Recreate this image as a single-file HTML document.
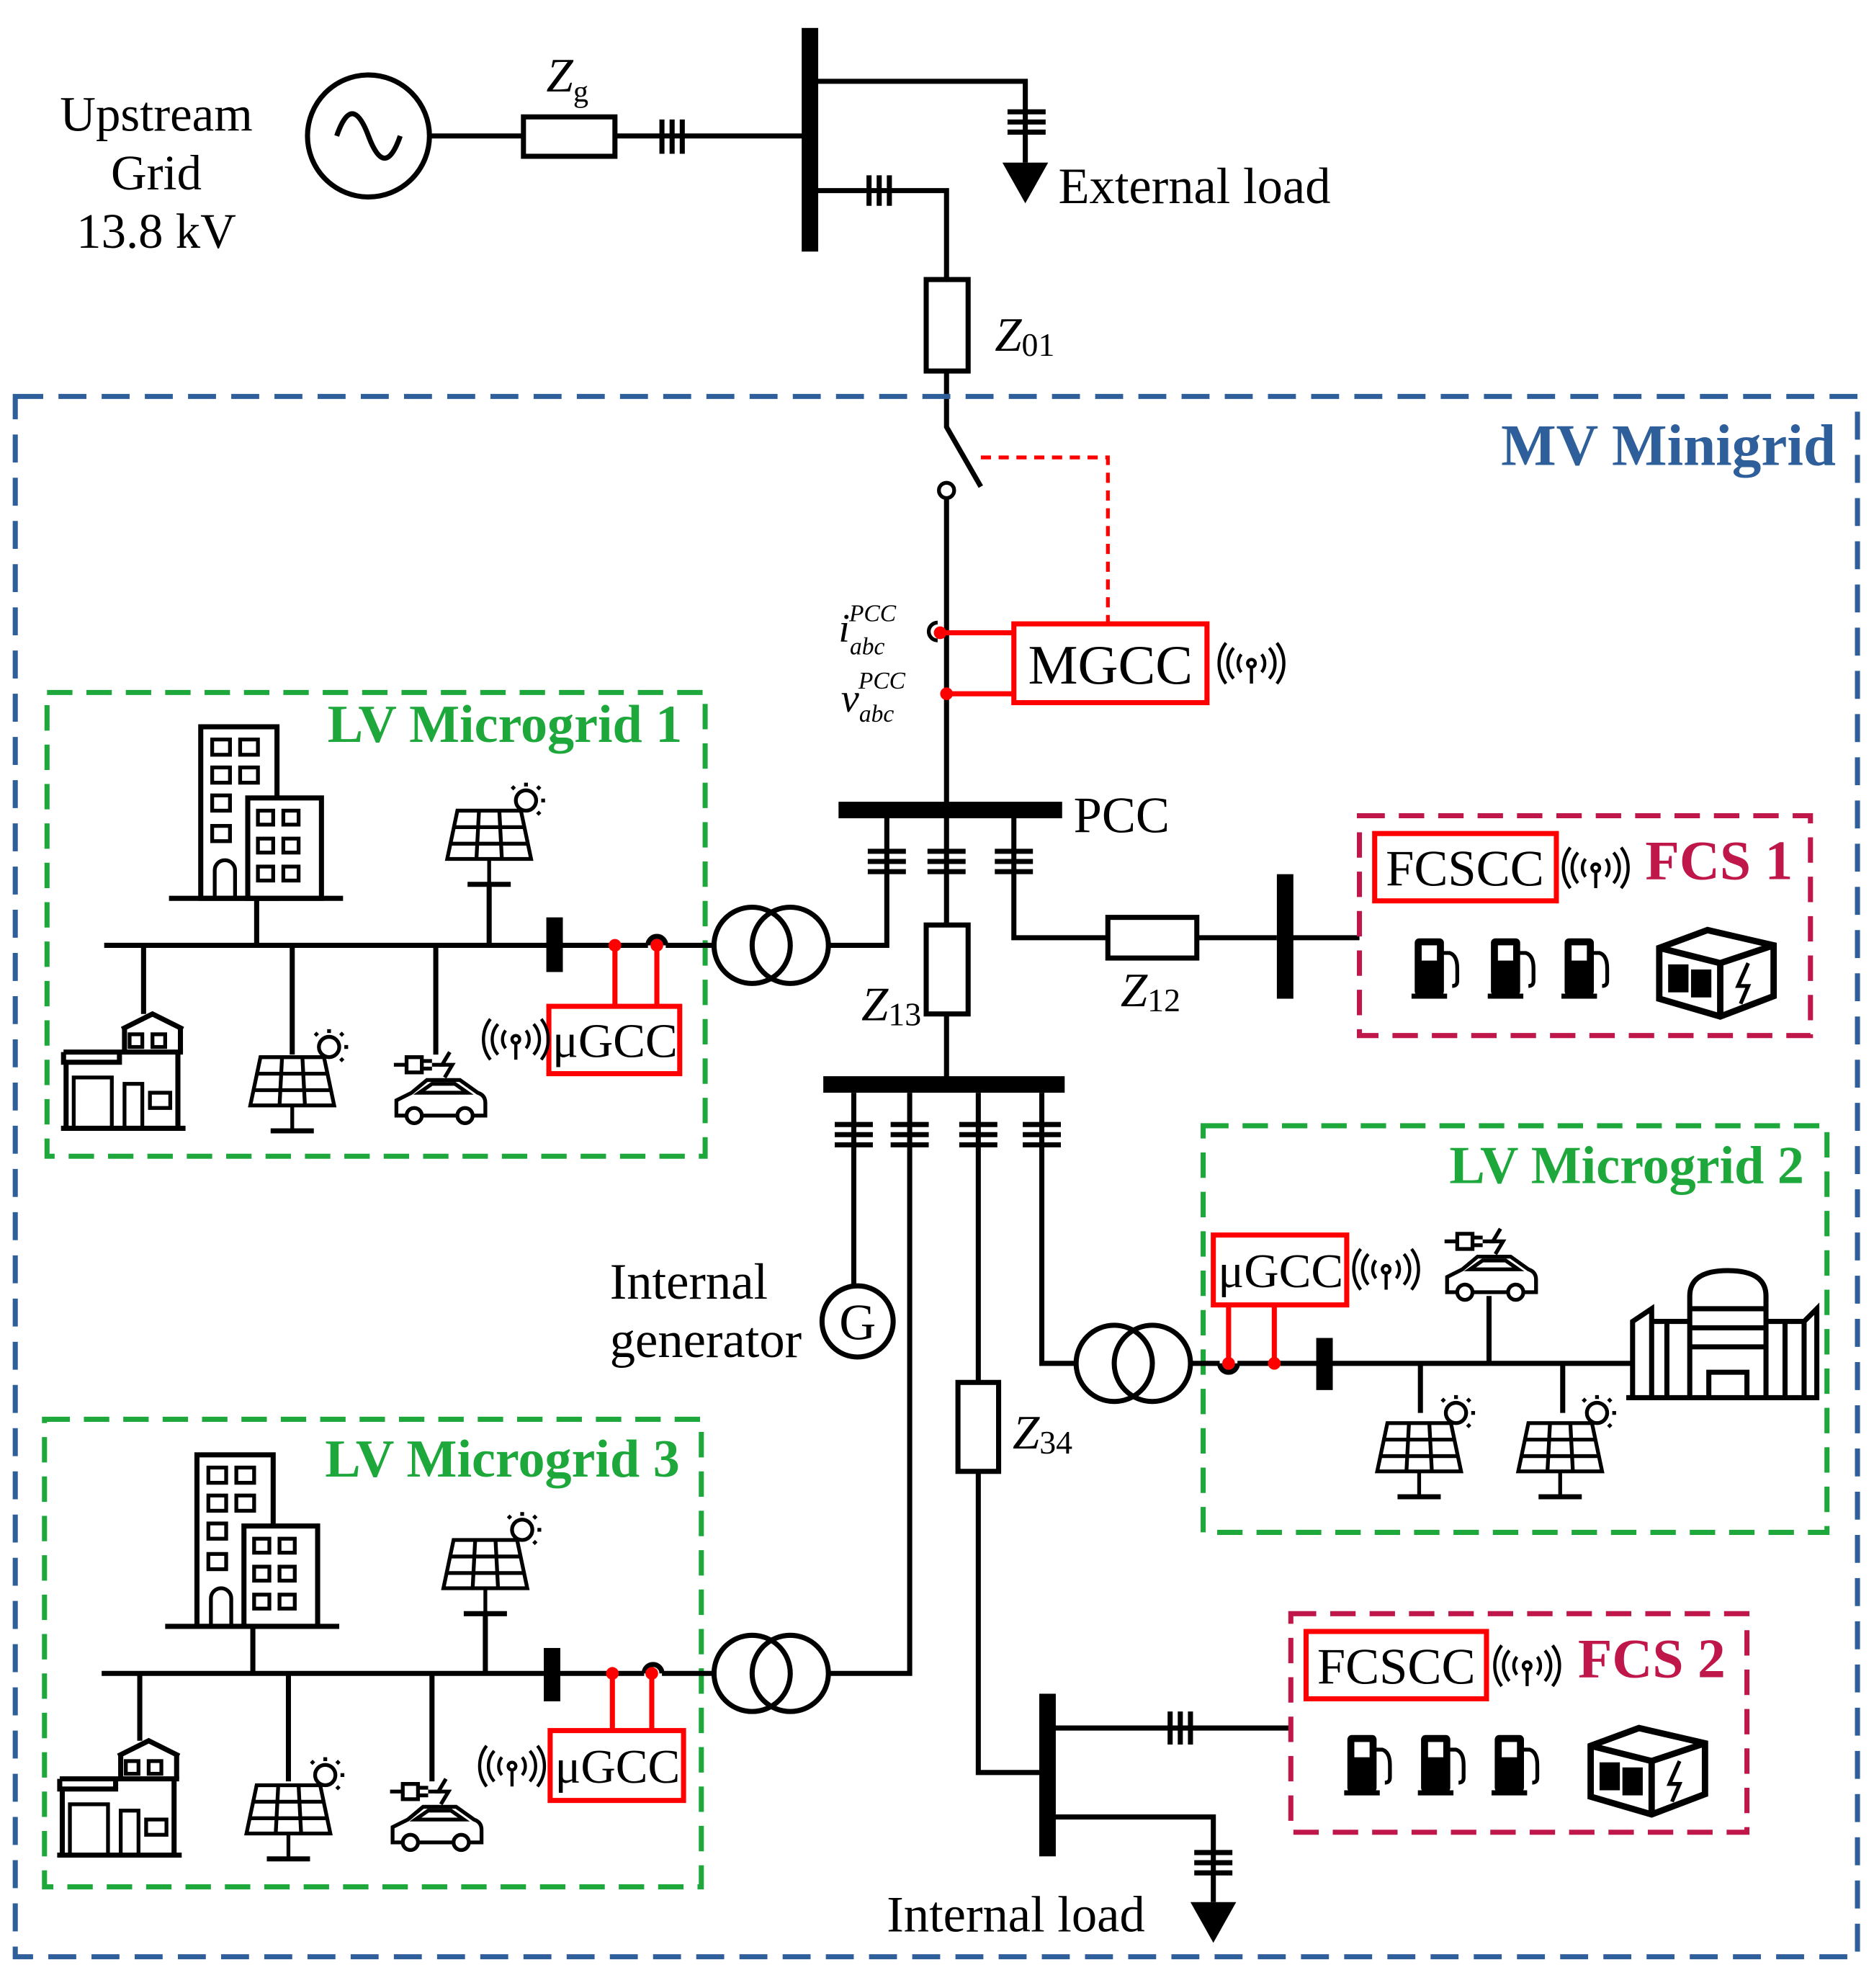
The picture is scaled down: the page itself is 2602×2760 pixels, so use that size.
<!DOCTYPE html>
<html><head><meta charset="utf-8"><style>
html,body{margin:0;padding:0;background:#fff}
svg{display:block}
text{font-family:"Liberation Serif",serif}
</style></head><body>
<svg width="2602" height="2760" viewBox="0 0 1475 1564.6" xmlns="http://www.w3.org/2000/svg">
<defs>
<g id="bldg" fill="none" stroke="#000" stroke-width="4">
 <rect x="25" y="2" width="60" height="135"/>
 <rect x="62" y="58" width="58" height="79" fill="#fff"/>
 <g stroke-width="3">
 <rect x="34" y="12" width="14" height="12"/><rect x="56" y="12" width="14" height="12"/>
 <rect x="34" y="34" width="14" height="12"/><rect x="56" y="34" width="14" height="12"/>
 <rect x="34" y="56" width="14" height="12"/><rect x="34" y="80" width="14" height="12"/>
 <rect x="70" y="68" width="12" height="11"/><rect x="90" y="68" width="12" height="11"/>
 <rect x="70" y="90" width="12" height="11"/><rect x="90" y="90" width="12" height="11"/>
 <rect x="70" y="112" width="12" height="11"/><rect x="90" y="112" width="12" height="11"/>
 <path d="M36 137 V115 a8 8 0 0 1 16 0 V137"/>
 </g>
 <line x1="0" y1="137" x2="137" y2="137"/>
</g>
<g id="panel" fill="none" stroke="#000" stroke-width="3">
 <path d="M10 0 H60 L68 38 H2 Z"/>
 <path d="M27 0 L25 38 M43 0 L45 38 M6 13 H63 M4 26 H66"/>
 <line x1="35" y1="38" x2="35" y2="58"/><line x1="18" y1="58" x2="52" y2="58" stroke-width="4"/>
 <circle cx="64" cy="-8" r="8" fill="#fff"/>
 <path d="M64 -22 V-19 M76 -8 H79 M73 -17 L75 -19 M73 1 L75 3 M55 -17 L53 -19"/>
</g>
<g id="house" fill="none" stroke="#000" stroke-width="4">
 <path d="M48 12 L72 0 L96 12 M50 10 V30 M94 10 V30"/>
 <rect x="54" y="16" width="10" height="10" stroke-width="3"/><rect x="72" y="16" width="10" height="10" stroke-width="3"/>
 <path d="M2 30 H96 M2 30 V38 H46 V30 M4 38 V90 M92 30 V90"/>
 <rect x="10" y="50" width="30" height="40" stroke-width="3"/>
 <rect x="50" y="55" width="14" height="35" stroke-width="3"/>
 <rect x="70" y="62" width="16" height="12" stroke-width="3"/>
 <line x1="0" y1="90" x2="98" y2="90"/>
</g>
<g id="ev" fill="none" stroke="#000" stroke-width="3">
 <path d="M0 12 H10 M10 6 H22 V18 H10 Z M22 9 H30 M22 15 H30 M30 12 H40"/>
 <path d="M44 2 L38 12 H46 L40 22" stroke-width="3"/>
 <path d="M2 52 V40 L14 34 L26 24 H52 L66 34 Q72 36 72 42 V52 Z"/>
 <path d="M20 34 L30 27 H48 L58 34 Z"/>
 <circle cx="16" cy="52" r="6" fill="#fff"/><circle cx="56" cy="52" r="6" fill="#fff"/>
</g>
<g id="wifi" fill="none" stroke="#000" stroke-width="2.5">
 <circle cx="0" cy="0" r="3"/><line x1="0" y1="3" x2="0" y2="16"/>
 <path d="M-8 -7 a11 11 0 0 0 0 14 M8 -7 a11 11 0 0 1 0 14 M-14 -12 a18 18 0 0 0 0 24 M14 -12 a18 18 0 0 1 0 24 M-20 -16 a26 26 0 0 0 0 32 M20 -16 a26 26 0 0 1 0 32"/>
</g>
<g id="chg" stroke="#000" stroke-width="3">
 <rect x="0" y="0" width="20" height="42" rx="2" fill="#000"/>
 <rect x="4" y="4" width="12" height="12" fill="#fff" stroke="none"/>
 <path d="M20 10 H26 Q32 12 32 22 V32 Q32 36 28 36" fill="none"/>
 <line x1="-4" y1="44" x2="24" y2="44" stroke-width="4"/>
</g>
<g id="bat" fill="none" stroke="#000" stroke-width="5">
 <path d="M2 16 L40 2 L92 14 L92 54 L50 70 L2 56 Z M2 16 L50 28 L92 14 M50 28 V70"/>
 <rect x="10" y="30" width="14" height="20" fill="#000" stroke-width="2"/>
 <rect x="28" y="34" width="14" height="20" fill="#000" stroke-width="2"/>
 <path d="M72 28 L64 46 H72 L66 60" stroke-width="3"/>
</g>
</defs>

<g fill="none" stroke="#000" stroke-width="4">
<!-- upstream -->
<circle cx="290" cy="107" r="48"/>
<path d="M265 107 q12 -35 25 0 t25 0" stroke-width="4"/>
<line x1="338" y1="107" x2="635" y2="107"/>
<rect x="412" y="92" width="72" height="31" fill="#fff"/>
<path d="M521 94 V121 M529 94 V121 M537 94 V121"/>
<rect x="631" y="22" width="13" height="176" fill="#000" stroke="none"/>
<path d="M643 64 H807 V128"/>
<path d="M793 88 H823 M793 96 H823 M793 104 H823"/>
<path d="M643 150 H745 V220"/>
<path d="M684 138 V162 M692 138 V162 M700 138 V162"/>
<rect x="729" y="220" width="33" height="72" fill="#fff"/>
<path d="M745 292 V336 L772 383"/>
<circle cx="745" cy="386" r="6" fill="#fff" stroke-width="3"/>
<path d="M745 392 V632"/>
<path d="M738 490 a7 7 0 0 0 0 14" stroke-width="3" fill="#fff"/>
</g>
<polygon points="789,128 825,128 807,160" fill="#000"/>

<path d="M772 360 H872 V490" stroke="#f00" stroke-width="3" stroke-dasharray="8,6" fill="none"/>
<path d="M740 498 H798 M745 546 H798" stroke="#f00" stroke-width="4" fill="none"/>
<circle cx="740" cy="498" r="5" fill="#f00"/><circle cx="745" cy="546" r="5" fill="#f00"/>
<rect x="798" y="491" width="152" height="62" fill="#fff" stroke="#f00" stroke-width="4"/>
<text x="874" y="538" font-size="44" text-anchor="middle">MGCC</text>
<use href="#wifi" x="985" y="522"/>

<text x="123" y="103" font-size="39" text-anchor="middle">Upstream</text>
<text x="123" y="149" font-size="39" text-anchor="middle">Grid</text>
<text x="123" y="195" font-size="39" text-anchor="middle">13.8 kV</text>
<text x="430" y="72" font-size="38" font-style="italic">Z<tspan font-size="24" dy="8" font-style="normal">g</tspan></text>
<text x="833" y="160" font-size="40">External load</text>
<text x="783" y="276" font-size="38" font-style="italic">Z<tspan font-size="26" dy="4" font-style="normal">01</tspan></text>
<text x="660" y="505" font-size="32" font-style="italic">i<tspan font-size="19" dy="10">abc</tspan><tspan font-size="19" dx="-28" dy="-26">PCC</tspan></text>
<text x="662" y="560" font-size="32" font-style="italic">v<tspan font-size="19" dy="8">abc</tspan><tspan font-size="19" dx="-28" dy="-26">PCC</tspan></text>

<!-- MV box -->
<rect x="12" y="312" width="1450" height="1228" fill="none" stroke="#2e5f9b" stroke-width="4" stroke-dasharray="22,12"/>
<text x="1445" y="366" font-size="46" font-weight="bold" fill="#2e5f9b" text-anchor="end">MV Minigrid</text>

<!-- PCC bus -->
<rect x="660" y="631" width="176" height="13" fill="#000"/>
<text x="845" y="655" font-size="40">PCC</text>
<g fill="none" stroke="#000" stroke-width="4">
<path d="M698 644 V744 H652"/>
<path d="M745 644 V728"/>
<path d="M798 644 V738 H872"/>
<path d="M683 670 H713 M683 678 H713 M683 686 H713 M730 670 H760 M730 678 H760 M730 686 H760 M783 670 H813 M783 678 H813 M783 686 H813"/>
<rect x="729" y="728" width="33" height="70" fill="#fff"/>
<path d="M745 798 V853"/>
<rect x="872" y="722" width="70" height="32" fill="#fff"/>
<path d="M942 738 H1005 M1017 738 H1070"/>
<circle cx="592" cy="744" r="30"/><circle cx="622" cy="744" r="30"/>
</g>
<rect x="1005" y="688" width="13" height="98" fill="#000"/>
<text x="678" y="803" font-size="38" font-style="italic">Z<tspan font-size="26" dy="4" font-style="normal">13</tspan></text>
<text x="882" y="792" font-size="38" font-style="italic">Z<tspan font-size="26" dy="4" font-style="normal">12</tspan></text>

<!-- lower bus -->
<rect x="648" y="847" width="190" height="13" fill="#000"/>
<g fill="none" stroke="#000" stroke-width="4">
<path d="M657 885 H687 M657 893 H687 M657 901 H687 M701 885 H731 M701 893 H731 M701 901 H731 M755 885 H785 M755 893 H785 M755 901 H785 M805 885 H835 M805 893 H835 M805 901 H835"/>
<path d="M672 860 V1012"/>
<circle cx="675" cy="1040" r="28"/>
<path d="M716 860 V1317 H652"/>
<path d="M770 860 V1088"/>
<rect x="754" y="1088" width="32" height="70" fill="#fff"/>
<path d="M770 1158 V1395 H820"/>
<path d="M820 860 V1073 H847"/>
<circle cx="877" cy="1073" r="30"/><circle cx="907" cy="1073" r="30"/>
<circle cx="592" cy="1317" r="30"/><circle cx="622" cy="1317" r="30"/>
<path d="M830 1360 H1016 M830 1430 H955 V1497"/>
<path d="M921 1347 V1373 M929 1347 V1373 M937 1347 V1373"/>
<path d="M940 1458 H970 M940 1466 H970 M940 1474 H970"/>
</g>
<rect x="818" y="1333" width="13" height="128" fill="#000"/>
<polygon points="937,1497 973,1497 955,1529" fill="#000"/>
<text x="675" y="1054" font-size="40" text-anchor="middle">G</text>
<text x="480" y="1022" font-size="40">Internal</text>
<text x="480" y="1068" font-size="40">generator</text>
<text x="797" y="1140" font-size="38" font-style="italic">Z<tspan font-size="26" dy="4" font-style="normal">34</tspan></text>
<text x="698" y="1520" font-size="40">Internal load</text>

<!-- FCS1 -->
<rect x="1070" y="642" width="355" height="173" fill="none" stroke="#c0174a" stroke-width="4" stroke-dasharray="20,11"/>
<rect x="1082" y="656" width="143" height="53" fill="#fff" stroke="#f00" stroke-width="4"/>
<text x="1153" y="697" font-size="40" text-anchor="middle">FCSCC</text>
<use href="#wifi" x="1256" y="683"/>
<text x="1295" y="692" font-size="44" font-weight="bold" fill="#c0174a">FCS 1</text>
<use href="#chg" x="1115" y="740"/><use href="#chg" x="1175" y="740"/><use href="#chg" x="1233" y="740"/>
<use href="#bat" x="1304" y="730"/>

<!-- FCS2 -->
<rect x="1016" y="1270" width="359" height="172" fill="none" stroke="#c0174a" stroke-width="4" stroke-dasharray="20,11"/>
<rect x="1028" y="1284" width="142" height="53" fill="#fff" stroke="#f00" stroke-width="4"/>
<text x="1099" y="1325" font-size="40" text-anchor="middle">FCSCC</text>
<use href="#wifi" x="1202" y="1311"/>
<text x="1242" y="1320" font-size="44" font-weight="bold" fill="#c0174a">FCS 2</text>
<use href="#chg" x="1062" y="1367"/><use href="#chg" x="1120" y="1367"/><use href="#chg" x="1178" y="1367"/>
<use href="#bat" x="1250" y="1358"/>

<!-- LV1 -->
<rect x="37" y="545" width="518" height="365" fill="none" stroke="#1ea83c" stroke-width="4" stroke-dasharray="20,11"/>
<text x="537" y="584" font-size="42" font-weight="bold" fill="#1ea83c" text-anchor="end">LV Microgrid 1</text>
<g fill="none" stroke="#000" stroke-width="4">
<path d="M82 744 H510 M524 744 H562"/>
<path d="M510 744 a7 7 0 0 1 14 0"/>
<path d="M113 744 V798 M202 744 V707 M230 744 V830 M343 744 V830 M385 744 V696"/>
</g>
<rect x="430" y="722" width="13" height="43" fill="#000"/>
<path d="M484 744 V792 M517 744 V792" stroke="#f00" stroke-width="4"/>
<circle cx="484" cy="744" r="5" fill="#f00"/><circle cx="517" cy="744" r="5" fill="#f00"/>
<rect x="432" y="792" width="103" height="53" fill="#fff" stroke="#f00" stroke-width="4"/>
<text x="484" y="832" font-size="38" text-anchor="middle">μGCC</text>
<use href="#wifi" x="406" y="818"/>
<use href="#bldg" x="133" y="570"/>
<use href="#panel" x="350" y="638"/>
<use href="#house" x="48" y="798"/>
<use href="#panel" x="195" y="832"/>
<use href="#ev" x="310" y="826"/>

<!-- LV3 -->
<rect x="35" y="1117" width="517" height="368" fill="none" stroke="#1ea83c" stroke-width="4" stroke-dasharray="20,11"/>
<text x="535" y="1162" font-size="42" font-weight="bold" fill="#1ea83c" text-anchor="end">LV Microgrid 3</text>
<g fill="none" stroke="#000" stroke-width="4">
<path d="M80 1317 H507 M521 1317 H562"/>
<path d="M507 1317 a7 7 0 0 1 14 0"/>
<path d="M110 1317 V1370 M199 1317 V1280 M227 1317 V1402 M340 1317 V1402 M382 1317 V1268"/>
</g>
<rect x="428" y="1297" width="13" height="42" fill="#000"/>
<path d="M482 1317 V1362 M513 1317 V1362" stroke="#f00" stroke-width="4"/>
<circle cx="482" cy="1317" r="5" fill="#f00"/><circle cx="513" cy="1317" r="5" fill="#f00"/>
<rect x="433" y="1362" width="105" height="55" fill="#fff" stroke="#f00" stroke-width="4"/>
<text x="486" y="1403" font-size="38" text-anchor="middle">μGCC</text>
<use href="#wifi" x="403" y="1390"/>
<use href="#bldg" x="130" y="1143"/>
<use href="#panel" x="347" y="1212"/>
<use href="#house" x="45" y="1370"/>
<use href="#panel" x="192" y="1405"/>
<use href="#ev" x="307" y="1398"/>

<!-- LV2 -->
<rect x="947" y="886" width="491" height="320" fill="none" stroke="#1ea83c" stroke-width="4" stroke-dasharray="20,11"/>
<text x="1420" y="931" font-size="42" font-weight="bold" fill="#1ea83c" text-anchor="end">LV Microgrid 2</text>
<g fill="none" stroke="#000" stroke-width="4">
<path d="M937 1073 H960 M974 1073 H1285"/>
<path d="M960 1073 a7 7 0 0 0 14 0"/>
<path d="M1118 1073 V1112 M1172 1073 V1020 M1230 1073 V1112"/>
<!-- building -->
<path d="M1280 1100 H1432 M1285 1100 V1040 L1300 1030 V1100 M1300 1040 H1330 M1312 1100 V1040 M1330 1100 V1020 Q1330 1000 1360 1000 Q1390 1000 1390 1020 V1100 M1330 1030 H1390 M1330 1045 H1390 M1330 1060 H1390 M1345 1100 V1080 H1375 V1100 M1390 1040 H1420 V1100 M1405 1040 V1100 M1420 1040 L1430 1030 V1100"/>
</g>
<rect x="1036" y="1053" width="13" height="41" fill="#000"/>
<path d="M967 1027 V1073 M1003 1027 V1073" stroke="#f00" stroke-width="4"/>
<circle cx="967" cy="1073" r="5" fill="#f00"/><circle cx="1003" cy="1073" r="5" fill="#f00"/>
<rect x="955" y="972" width="105" height="55" fill="#fff" stroke="#f00" stroke-width="4"/>
<text x="1008" y="1013" font-size="38" text-anchor="middle">μGCC</text>
<use href="#wifi" x="1091" y="999"/>
<use href="#ev" x="1137" y="965"/>
<use href="#panel" x="1082" y="1120"/>
<use href="#panel" x="1193" y="1120"/>
</svg>
</body></html>
